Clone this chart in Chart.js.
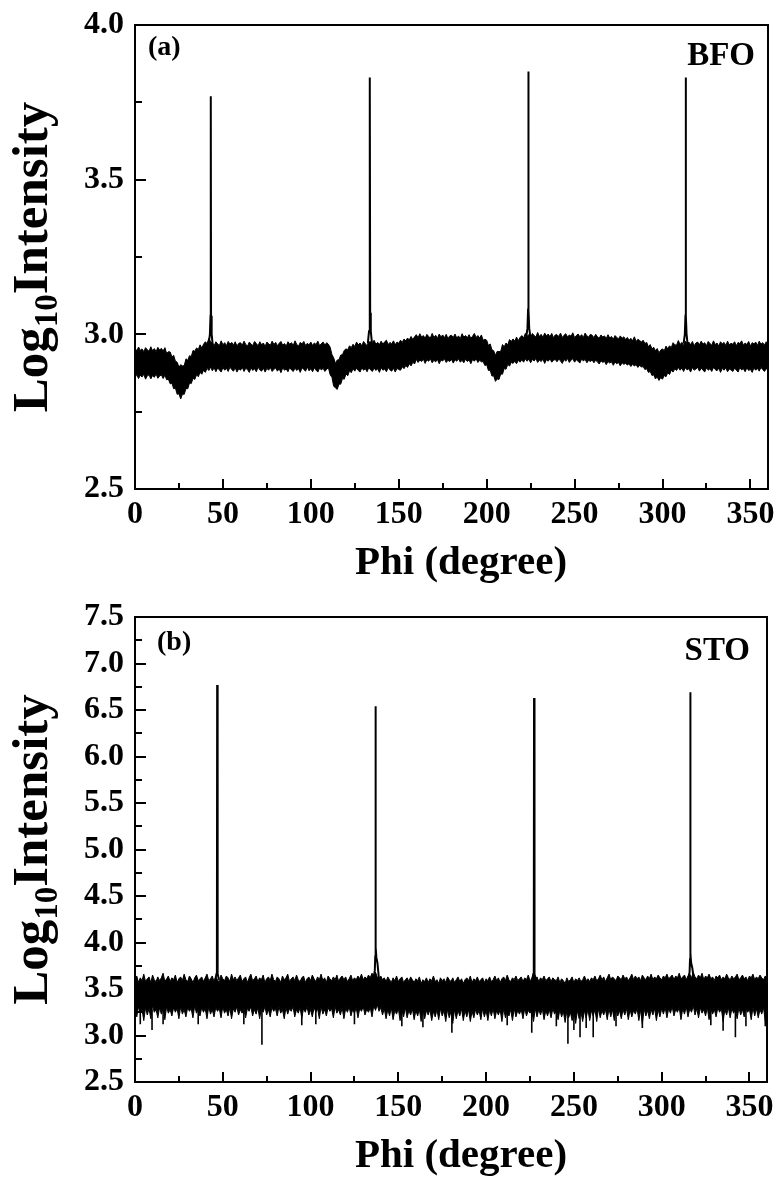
<!DOCTYPE html>
<html><head><meta charset="utf-8">
<script src="https://cdn.jsdelivr.net/npm/chart.js@4/dist/chart.umd.min.js"></script>
<style>
html,body{margin:0;padding:0;background:#fff;}
#wrap{position:relative;width:779px;height:1178px;background:#fff;}
#c1{position:absolute;left:0;top:0;width:779px;height:590px;}
#c2{position:absolute;left:0;top:590px;width:779px;height:588px;}
</style></head><body>
<div id="wrap"><canvas id="c1" width="779" height="590"></canvas><canvas id="c2" width="779" height="588"></canvas></div>
<script>
// ---------- shared sampling grid (degrees, 1 deg step) ----------
const phiGrid = [
0,1,2,3,4,5,6,7,8,9,10,11,12,13,14,15,16,17,18,19,
20,21,22,23,24,25,26,27,28,29,30,31,32,33,34,35,36,37,38,39,
40,41,42,43,44,45,46,47,48,49,50,51,52,53,54,55,56,57,58,59,
60,61,62,63,64,65,66,67,68,69,70,71,72,73,74,75,76,77,78,79,
80,81,82,83,84,85,86,87,88,89,90,91,92,93,94,95,96,97,98,99,
100,101,102,103,104,105,106,107,108,109,110,111,112,113,114,115,116,117,118,119,
120,121,122,123,124,125,126,127,128,129,130,131,132,133,134,135,136,137,138,139,
140,141,142,143,144,145,146,147,148,149,150,151,152,153,154,155,156,157,158,159,
160,161,162,163,164,165,166,167,168,169,170,171,172,173,174,175,176,177,178,179,
180,181,182,183,184,185,186,187,188,189,190,191,192,193,194,195,196,197,198,199,
200,201,202,203,204,205,206,207,208,209,210,211,212,213,214,215,216,217,218,219,
220,221,222,223,224,225,226,227,228,229,230,231,232,233,234,235,236,237,238,239,
240,241,242,243,244,245,246,247,248,249,250,251,252,253,254,255,256,257,258,259,
260,261,262,263,264,265,266,267,268,269,270,271,272,273,274,275,276,277,278,279,
280,281,282,283,284,285,286,287,288,289,290,291,292,293,294,295,296,297,298,299,
300,301,302,303,304,305,306,307,308,309,310,311,312,313,314,315,316,317,318,319,
320,321,322,323,324,325,326,327,328,329,330,331,332,333,334,335,336,337,338,339,
340,341,342,343,344,345,346,347,348,349,350,351,352,353,354,355,356,357,358,359,
360];

// ---------- (a) BFO : noise band upper / lower edge ----------
const bfoUpper = [
2.956,2.946,2.959,2.948,2.953,2.944,2.957,2.950,2.945,2.960,2.947,2.954,2.944,2.958,2.949,2.955,2.946,2.957,2.938,2.944,
2.943,2.927,2.932,2.913,2.910,2.894,2.902,2.898,2.899,2.921,2.916,2.931,2.928,2.948,2.945,2.956,2.951,2.966,2.956,2.968,
2.976,2.970,2.987,2.976,2.972,2.963,2.976,2.969,2.964,2.979,2.966,2.973,2.963,2.977,2.968,2.974,2.965,2.976,2.962,2.971,
2.973,2.965,2.978,2.967,2.962,2.975,2.968,2.964,2.977,2.970,2.963,2.976,2.966,2.972,2.961,2.975,2.969,2.965,2.978,2.967,
2.974,2.963,2.971,2.977,2.965,2.970,2.962,2.976,2.968,2.973,2.964,2.979,2.967,2.962,2.974,2.969,2.977,2.964,2.971,2.966,
2.975,2.964,2.972,2.967,2.978,2.963,2.970,2.975,2.965,2.973,2.968,2.958,2.935,2.924,2.906,2.917,2.918,2.933,2.934,2.948,
2.953,2.950,2.963,2.957,2.968,2.961,2.975,2.966,2.972,2.963,2.977,2.969,2.964,2.975,2.976,2.970,2.981,2.968,2.974,2.967,
2.978,2.968,2.976,2.981,2.967,2.974,2.969,2.979,2.966,2.975,2.971,2.981,2.974,2.985,2.979,2.988,2.982,2.993,2.983,2.992,
2.999,2.989,3.002,2.991,2.996,2.987,3.000,2.993,2.988,3.003,2.990,2.997,2.987,3.001,2.992,2.998,2.989,3.000,2.986,2.995,
2.997,2.990,3.001,2.988,2.995,2.986,3.002,2.991,2.996,2.989,2.999,2.987,2.994,3.003,2.990,2.996,2.988,2.998,2.981,2.984,
2.981,2.964,2.969,2.950,2.947,2.932,2.945,2.944,2.945,2.967,2.960,2.972,2.966,2.983,2.977,2.985,2.978,2.991,2.979,2.990,
2.996,2.988,3.003,2.994,2.999,2.990,3.003,2.996,2.991,3.006,2.993,3.000,2.990,3.004,2.995,3.001,2.992,3.003,2.989,2.998,
2.999,2.993,3.004,2.990,2.997,3.002,2.991,2.998,2.994,3.005,2.989,2.996,3.001,2.992,2.999,2.990,3.004,2.995,2.991,3.000,
2.997,2.989,3.000,2.992,2.987,2.998,2.991,2.995,2.986,2.999,2.988,2.993,2.984,2.996,2.990,2.985,2.995,2.987,2.992,2.983,
2.990,2.981,2.987,2.979,2.992,2.977,2.984,2.980,2.975,2.981,2.970,2.974,2.960,2.967,2.953,2.958,2.947,2.954,2.940,2.949,
2.953,2.947,2.962,2.953,2.963,2.957,2.973,2.966,2.965,2.980,2.967,2.974,2.964,2.978,2.969,2.975,2.966,2.977,2.963,2.972,
2.975,2.966,2.978,2.968,2.973,2.963,2.977,2.970,2.965,2.979,2.967,2.972,2.962,2.976,2.969,2.974,2.964,2.978,2.966,2.971,
2.968,2.976,2.963,2.974,2.970,2.979,2.965,2.972,2.967,2.977,2.962,2.973,2.969,2.975,2.964,2.978,2.968,2.973,2.965,2.976,
2.970];
const bfoLower = [
2.860,2.870,2.857,2.868,2.862,2.871,2.855,2.866,2.869,2.856,2.867,2.861,2.872,2.858,2.865,2.869,2.857,2.868,2.853,2.855,
2.840,2.842,2.824,2.826,2.806,2.808,2.791,2.807,2.806,2.825,2.824,2.843,2.841,2.858,2.854,2.869,2.863,2.877,2.871,2.884,
2.877,2.890,2.883,2.894,2.882,2.892,2.879,2.891,2.885,2.878,2.893,2.884,2.890,2.880,2.894,2.886,2.881,2.892,2.878,2.889,
2.884,2.893,2.880,2.890,2.886,2.877,2.892,2.883,2.889,2.879,2.894,2.885,2.881,2.891,2.878,2.890,2.884,2.893,2.880,2.887,
2.891,2.881,2.889,2.876,2.892,2.884,2.888,2.879,2.893,2.885,2.880,2.891,2.883,2.889,2.877,2.892,2.886,2.881,2.894,2.882,
2.889,2.879,2.892,2.884,2.878,2.891,2.885,2.890,2.880,2.887,2.892,2.869,2.861,2.832,2.827,2.822,2.839,2.839,2.857,2.855,
2.872,2.866,2.882,2.876,2.889,2.881,2.891,2.883,2.878,2.892,2.884,2.889,2.879,2.893,2.885,2.880,2.891,2.883,2.889,2.877,
2.892,2.884,2.888,2.879,2.893,2.885,2.881,2.891,2.878,2.890,2.886,2.884,2.895,2.889,2.899,2.893,2.905,2.898,2.910,2.904,
2.919,2.909,2.917,2.912,2.920,2.906,2.918,2.913,2.921,2.908,2.916,2.911,2.919,2.905,2.917,2.914,2.921,2.909,2.916,2.912,
2.919,2.907,2.918,2.913,2.921,2.910,2.916,2.908,2.920,2.912,2.917,2.905,2.919,2.913,2.921,2.909,2.916,2.911,2.912,2.899,
2.902,2.883,2.884,2.865,2.866,2.848,2.856,2.854,2.872,2.871,2.890,2.887,2.903,2.897,2.910,2.906,2.913,2.905,2.916,2.910,
2.918,2.910,2.921,2.913,2.920,2.908,2.919,2.914,2.922,2.909,2.917,2.912,2.920,2.906,2.918,2.913,2.921,2.910,2.916,2.919,
2.911,2.920,2.914,2.906,2.919,2.913,2.922,2.909,2.917,2.921,2.910,2.918,2.913,2.907,2.920,2.914,2.919,2.908,2.916,2.912,
2.917,2.908,2.916,2.911,2.904,2.915,2.909,2.913,2.902,2.912,2.907,2.911,2.900,2.910,2.905,2.909,2.898,2.908,2.903,2.906,
2.901,2.905,2.896,2.903,2.898,2.902,2.893,2.900,2.894,2.896,2.886,2.889,2.877,2.880,2.867,2.869,2.856,2.862,2.851,2.860,
2.855,2.867,2.863,2.876,2.870,2.884,2.878,2.889,2.883,2.893,2.884,2.891,2.880,2.892,2.885,2.889,2.878,2.893,2.884,2.888,
2.893,2.881,2.890,2.885,2.878,2.892,2.884,2.889,2.880,2.893,2.886,2.882,2.891,2.877,2.890,2.884,2.892,2.879,2.888,2.885,
2.880,2.891,2.884,2.878,2.893,2.885,2.889,2.879,2.892,2.883,2.887,2.877,2.891,2.884,2.890,2.881,2.893,2.886,2.880,2.889,
2.886];
// (a) BFO : the four sharp reflections (null = break between peaks)
const bfoPeakPhi = [41.9,42.6,42.95,43.1,43.25,43.6,44.3, 44.3,
                    132.4,133.1,133.45,133.6,133.75,134.1,134.8, 134.8,
                    222.5,223.2,223.55,223.7,223.85,224.2,224.9, 224.9,
                    312.0,312.7,313.05,313.2,313.35,313.7,314.4];
const bfoPeakVal = [2.97,3.00,3.06,3.77,3.06,3.00,2.96, null,
                    2.97,3.01,3.07,3.83,3.07,3.01,2.97, null,
                    2.99,3.02,3.08,3.85,3.08,3.02,2.99, null,
                    2.97,3.00,3.06,3.83,3.06,3.00,2.96];

// ---------- (b) STO : noise band upper / lower edge ----------
const stoUpper = [
3.60,3.64,3.57,3.62,3.59,3.66,3.58,3.61,3.63,3.57,3.65,3.60,3.58,3.63,3.59,3.62,3.67,3.58,3.61,3.64,
3.58,3.62,3.60,3.65,3.57,3.61,3.63,3.59,3.66,3.60,3.58,3.64,3.61,3.57,3.62,3.65,3.59,3.61,3.63,3.58,
3.62,3.66,3.59,3.61,3.64,3.58,3.63,3.60,3.57,3.65,3.61,3.59,3.64,3.62,3.58,3.66,3.60,3.63,3.59,3.62,
3.65,3.58,3.61,3.63,3.57,3.62,3.66,3.59,3.61,3.64,3.58,3.62,3.60,3.65,3.57,3.61,3.63,3.59,3.66,3.60,
3.58,3.63,3.61,3.57,3.64,3.60,3.62,3.66,3.58,3.61,3.63,3.59,3.65,3.60,3.58,3.62,3.64,3.57,3.61,3.63,
3.59,3.65,3.61,3.58,3.63,3.60,3.66,3.59,3.62,3.57,3.64,3.61,3.59,3.63,3.60,3.65,3.58,3.62,3.64,3.60,
3.63,3.58,3.61,3.65,3.59,3.62,3.60,3.64,3.61,3.66,3.60,3.63,3.61,3.65,3.62,3.67,3.64,3.68,3.63,3.61,
3.64,3.60,3.62,3.58,3.63,3.60,3.57,3.62,3.59,3.64,3.58,3.61,3.63,3.57,3.60,3.62,3.58,3.63,3.60,3.57,
3.61,3.59,3.63,3.56,3.60,3.58,3.62,3.57,3.61,3.59,3.64,3.58,3.60,3.56,3.62,3.59,3.61,3.57,3.63,3.60,
3.58,3.62,3.57,3.60,3.63,3.58,3.61,3.56,3.60,3.62,3.59,3.64,3.57,3.61,3.59,3.63,3.58,3.60,3.62,3.57,
3.61,3.59,3.63,3.58,3.60,3.64,3.59,3.62,3.57,3.61,3.63,3.59,3.65,3.60,3.58,3.62,3.60,3.64,3.59,3.61,
3.63,3.58,3.62,3.60,3.65,3.59,3.61,3.66,3.60,3.63,3.58,3.62,3.60,3.64,3.59,3.61,3.63,3.58,3.62,3.60,
3.59,3.63,3.57,3.61,3.59,3.56,3.62,3.58,3.60,3.63,3.57,3.61,3.59,3.62,3.58,3.60,3.64,3.59,3.61,3.58,
3.62,3.60,3.64,3.59,3.61,3.65,3.60,3.63,3.58,3.62,3.66,3.60,3.63,3.61,3.59,3.64,3.62,3.60,3.65,3.61,
3.63,3.59,3.62,3.66,3.60,3.64,3.61,3.63,3.59,3.65,3.62,3.60,3.64,3.61,3.66,3.60,3.63,3.61,3.65,3.62,
3.60,3.64,3.62,3.66,3.61,3.63,3.65,3.60,3.64,3.62,3.67,3.61,3.63,3.65,3.60,3.64,3.66,3.62,3.68,3.63,
3.61,3.65,3.62,3.67,3.60,3.64,3.62,3.66,3.61,3.63,3.59,3.64,3.62,3.65,3.60,3.63,3.61,3.66,3.62,3.60,
3.64,3.61,3.63,3.66,3.60,3.62,3.65,3.61,3.63,3.59,3.64,3.62,3.66,3.60,3.63,3.61,3.65,3.62,3.60,3.64,
3.62];
const stoLower = [
3.29,3.20,3.31,3.24,3.28,3.16,3.30,3.22,3.29,3.18,3.32,3.25,3.28,3.19,3.30,3.23,3.29,3.17,3.31,3.24,
3.28,3.21,3.30,3.25,3.29,3.18,3.31,3.23,3.28,3.20,3.30,3.26,3.29,3.19,3.32,3.24,3.28,3.21,3.30,3.25,
3.29,3.18,3.31,3.23,3.28,3.20,3.30,3.26,3.29,3.19,3.31,3.24,3.28,3.21,3.30,3.18,3.29,3.25,3.31,3.22,
3.28,3.24,3.30,3.19,3.29,3.26,3.31,3.21,3.28,3.23,3.30,3.18,3.29,3.25,3.31,3.22,3.28,3.20,3.30,3.26,
3.29,3.21,3.31,3.24,3.28,3.18,3.30,3.23,3.29,3.26,3.31,3.20,3.28,3.24,3.30,3.19,3.29,3.25,3.31,3.22,
3.28,3.20,3.30,3.25,3.29,3.18,3.31,3.23,3.28,3.21,3.30,3.26,3.29,3.19,3.31,3.24,3.28,3.22,3.30,3.18,
3.29,3.25,3.31,3.21,3.28,3.24,3.30,3.19,3.29,3.26,3.31,3.22,3.28,3.25,3.30,3.20,3.32,3.27,3.33,3.26,
3.30,3.22,3.29,3.18,3.28,3.21,3.30,3.17,3.27,3.23,3.29,3.16,3.28,3.20,3.30,3.19,3.27,3.22,3.29,3.17,
3.27,3.21,3.28,3.15,3.29,3.18,3.27,3.22,3.28,3.16,3.26,3.20,3.28,3.17,3.29,3.21,3.27,3.15,3.28,3.19,
3.26,3.13,3.28,3.18,3.27,3.21,3.29,3.16,3.27,3.20,3.28,3.15,3.26,3.19,3.28,3.22,3.27,3.17,3.29,3.20,
3.27,3.16,3.28,3.21,3.29,3.18,3.27,3.22,3.28,3.15,3.29,3.19,3.27,3.21,3.28,3.16,3.29,3.20,3.27,3.23,
3.28,3.18,3.29,3.21,3.27,3.24,3.28,3.15,3.29,3.20,3.28,3.22,3.29,3.17,3.27,3.21,3.28,3.19,3.29,3.23,
3.27,3.17,3.28,3.20,3.26,3.14,3.27,3.19,3.25,3.16,3.26,3.13,3.27,3.18,3.26,3.15,3.27,3.19,3.28,3.16,
3.27,3.21,3.28,3.15,3.29,3.19,3.27,3.22,3.28,3.17,3.29,3.20,3.28,3.16,3.29,3.21,3.27,3.18,3.28,3.22,
3.29,3.17,3.28,3.20,3.27,3.23,3.29,3.16,3.28,3.12,3.29,3.21,3.27,3.18,3.28,3.22,3.29,3.16,3.28,3.20,
3.29,3.23,3.30,3.19,3.29,3.24,3.31,3.21,3.28,3.25,3.30,3.17,3.29,3.23,3.31,3.20,3.29,3.25,3.32,3.22,
3.29,3.19,3.30,3.24,3.28,3.21,3.30,3.17,3.29,3.23,3.28,3.20,3.30,3.25,3.29,3.15,3.28,3.22,3.30,3.19,
3.29,3.24,3.28,3.18,3.30,3.22,3.28,3.20,3.29,3.25,3.28,3.17,3.30,3.21,3.29,3.19,3.28,3.23,3.30,3.16,
3.28];
// (b) STO : deep downward noise spikes (position, lowest value)
const stoSpikePhi = [3,9.7,16,36,62,72.3,95,103,125,152,164,180.5,212,226,240,246.6,250,253.5,257,261,274,289,328,335,342,348,359];
const stoSpikeLow = [3.12,3.06,3.12,3.12,3.12,2.90,3.11,3.12,3.12,3.10,3.09,3.03,3.11,3.03,3.10,2.91,3.06,2.98,3.08,2.98,3.10,3.08,3.11,3.05,2.98,3.10,3.10];
const stoSpikeTop = 3.28;
// (b) STO : the four substrate reflections
const stoPeakPhi = [45.7,46.4,46.65,46.8,46.95,47.2,47.9, 47.9,
                    135.9,136.6,136.85,137.0,137.15,137.5,138.1,139.0, 139.0,
                    226.2,226.9,227.15,227.3,227.45,227.7,228.4, 228.4,
                    315.2,315.9,316.15,316.3,316.45,316.8,317.5,318.3];
const stoPeakVal = [3.60,3.66,3.78,6.77,3.78,3.66,3.60, null,
                    3.62,3.70,3.85,6.54,3.95,3.84,3.78,3.60, null,
                    3.60,3.66,3.80,6.63,3.80,3.66,3.60, null,
                    3.62,3.68,3.82,6.69,3.88,3.78,3.72,3.60];

// ---------- tick values / labels ----------
const xTickVals = [0,50,100,150,200,250,300,350];
const xTickLabels = ["0","50","100","150","200","250","300","350"];
const xMinorVals = [25,75,125,175,225,275,325];
const yTickValsA = [2.5,3.0,3.5,4.0];
const yTickLabelsA = ["2.5","3.0","3.5","4.0"];
const yMinorValsA = [2.75,3.25,3.75];
const yTickValsB = [2.5,3.0,3.5,4.0,4.5,5.0,5.5,6.0,6.5,7.0,7.5];
const yTickLabelsB = ["2.5","3.0","3.5","4.0","4.5","5.0","5.5","6.0","6.5","7.0","7.5"];
const yMinorValsB = [2.75,3.25,3.75,4.25,4.75,5.25,5.75,6.25,6.75,7.25];
const xTitle = "Phi (degree)";
const panelLabels = ["(a)", "(b)"];
const sampleNames = ["BFO", "STO"];

const SERIF = '"Liberation Serif", "Times New Roman", serif';

function pts(xs, ys) { return xs.map((x, i) => ({x: x, y: ys[i]})); }

const framePlugin = {
  id: 'frame',
  afterDraw(chart) {
    const o = chart.options.plugins.frame;
    const {ctx, chartArea: a} = chart;
    const xs = chart.scales.x, ys = chart.scales.y;
    ctx.save();
    ctx.strokeStyle = '#000';
    ctx.lineWidth = 2;
    ctx.strokeRect(a.left, a.top, a.right - a.left, a.bottom - a.top);
    ctx.beginPath();
    o.xMajor.forEach(v => { const p = Math.round(xs.getPixelForValue(v)); ctx.moveTo(p, a.bottom); ctx.lineTo(p, a.bottom - 10); });
    o.xMinor.forEach(v => { const p = Math.round(xs.getPixelForValue(v)); ctx.moveTo(p, a.bottom); ctx.lineTo(p, a.bottom - 6); });
    o.yMajor.forEach(v => { const p = Math.round(ys.getPixelForValue(v)); ctx.moveTo(a.left, p); ctx.lineTo(a.left + 11, p); });
    o.yMinor.forEach(v => { const p = Math.round(ys.getPixelForValue(v)); ctx.moveTo(a.left, p); ctx.lineTo(a.left + 7, p); });
    ctx.stroke();
    // panel label and sample name
    ctx.fillStyle = '#000';
    ctx.textBaseline = 'alphabetic';
    ctx.textAlign = 'left';
    ctx.font = 'bold 28px ' + SERIF;
    ctx.fillText(o.panel, a.left + o.panelDx, a.top + o.panelDy);
    ctx.textAlign = 'right';
    ctx.font = 'bold 33px ' + SERIF;
    ctx.fillText(o.name, a.left + o.nameRx, a.top + o.nameDy);
    // x title
    ctx.textAlign = 'center';
    ctx.font = 'bold 41px ' + SERIF;
    ctx.fillText(xTitle, o.xTitleX, o.xTitleY);
    // y title with subscript
    const cy = (a.top + a.bottom) / 2;
    ctx.translate(o.yTitleX, cy);
    ctx.rotate(-Math.PI / 2);
    const big = 'bold 51px ' + SERIF, small = 'bold 33px ' + SERIF;
    ctx.font = big; const w1 = ctx.measureText('Log').width; const w3 = ctx.measureText('Intensity').width;
    ctx.font = small; const w2 = ctx.measureText('10').width;
    const x0 = -(w1 + w2 + w3) / 2;
    ctx.textAlign = 'left';
    ctx.font = big; ctx.fillText('Log', x0, 0);
    ctx.font = small; ctx.fillText('10', x0 + w1, 10);
    ctx.font = big; ctx.fillText('Intensity', x0 + w1 + w2, 0);
    ctx.restore();
  }
};

function makeChart(canvas, cfg) {
  const datasets = [
    {data: pts(phiGrid, cfg.lower), borderColor: '#000', borderWidth: 1, fill: false, pointRadius: 0, tension: 0},
    {data: pts(phiGrid, cfg.upper), borderColor: '#000', borderWidth: 1, backgroundColor: '#000', fill: '-1', pointRadius: 0, tension: 0},
    {data: pts(cfg.peakPhi, cfg.peakVal), borderColor: '#000', borderWidth: 2, fill: false, pointRadius: 0, tension: 0, spanGaps: false}
  ];
  if (cfg.spikes) datasets.push({data: cfg.spikes, borderColor: '#000', borderWidth: 1.6, fill: false, pointRadius: 0, tension: 0, spanGaps: false});
  const zeroPad = s => { s.paddingTop = 0; s.paddingBottom = 0; s.paddingLeft = 0; s.paddingRight = 0; };
  return new Chart(canvas, {
    type: 'line',
    data: {datasets: datasets},
    plugins: [framePlugin],
    options: {
      responsive: false, animation: false, devicePixelRatio: 1,
      layout: {padding: cfg.padding},
      plugins: {legend: {display: false}, tooltip: {enabled: false},
        frame: cfg.frame},
      scales: {
        x: {type: 'linear', min: 0, max: 360,
          afterFit: s => { s.height = cfg.xAxisH; zeroPad(s); },
          afterBuildTicks: s => { s.ticks = xTickVals.map(v => ({value: v})); },
          grid: {display: false, drawTicks: false}, border: {display: false},
          ticks: {padding: 7, color: '#000', maxRotation: 0, autoSkip: false,
            font: {family: SERIF, weight: 'bold', size: 32},
            callback: (v, i) => xTickLabels[i]}},
        y: {type: 'linear', min: cfg.yMin, max: cfg.yMax,
          afterFit: s => { s.width = 135; zeroPad(s); },
          afterBuildTicks: s => { s.ticks = cfg.yTicks.map(v => ({value: v})); },
          grid: {display: false, drawTicks: false}, border: {display: false},
          ticks: {padding: 11, color: '#000', autoSkip: false,
            font: {family: SERIF, weight: 'bold', size: 32},
            callback: (v, i) => cfg.yLabels[i]}}
      }
    }
  });
}

const spikeData = [];
stoSpikePhi.forEach((p, i) => {
  spikeData.push({x: p, y: stoSpikeTop}, {x: p, y: stoSpikeLow[i]}, {x: p, y: null});
});

makeChart(document.getElementById('c1'), {
  lower: bfoLower, upper: bfoUpper, peakPhi: bfoPeakPhi, peakVal: bfoPeakVal,
  yMin: 2.5, yMax: 4.0, yTicks: yTickValsA, yLabels: yTickLabelsA,
  padding: {top: 25, right: 11, left: 0, bottom: 0}, xAxisH: 101,
  frame: {xMajor: xTickVals, xMinor: xMinorVals, yMajor: yTickValsA, yMinor: yMinorValsA,
    panel: panelLabels[0], panelDx: 13, panelDy: 30, name: sampleNames[0], nameRx: 620, nameDy: 40,
    xTitleX: 461, xTitleY: 574, yTitleX: 47}
});
makeChart(document.getElementById('c2'), {
  lower: stoLower, upper: stoUpper, peakPhi: stoPeakPhi, peakVal: stoPeakVal, spikes: spikeData,
  yMin: 2.5, yMax: 7.5, yTicks: yTickValsB, yLabels: yTickLabelsB,
  padding: {top: 27, right: 12, left: 0, bottom: 0}, xAxisH: 96,
  frame: {xMajor: xTickVals, xMinor: xMinorVals, yMajor: yTickValsB, yMinor: yMinorValsB,
    panel: panelLabels[1], panelDx: 22, panelDy: 33, name: sampleNames[1], nameRx: 615, nameDy: 43,
    xTitleX: 461, xTitleY: 577, yTitleX: 47}
});
</script>
</body></html>
